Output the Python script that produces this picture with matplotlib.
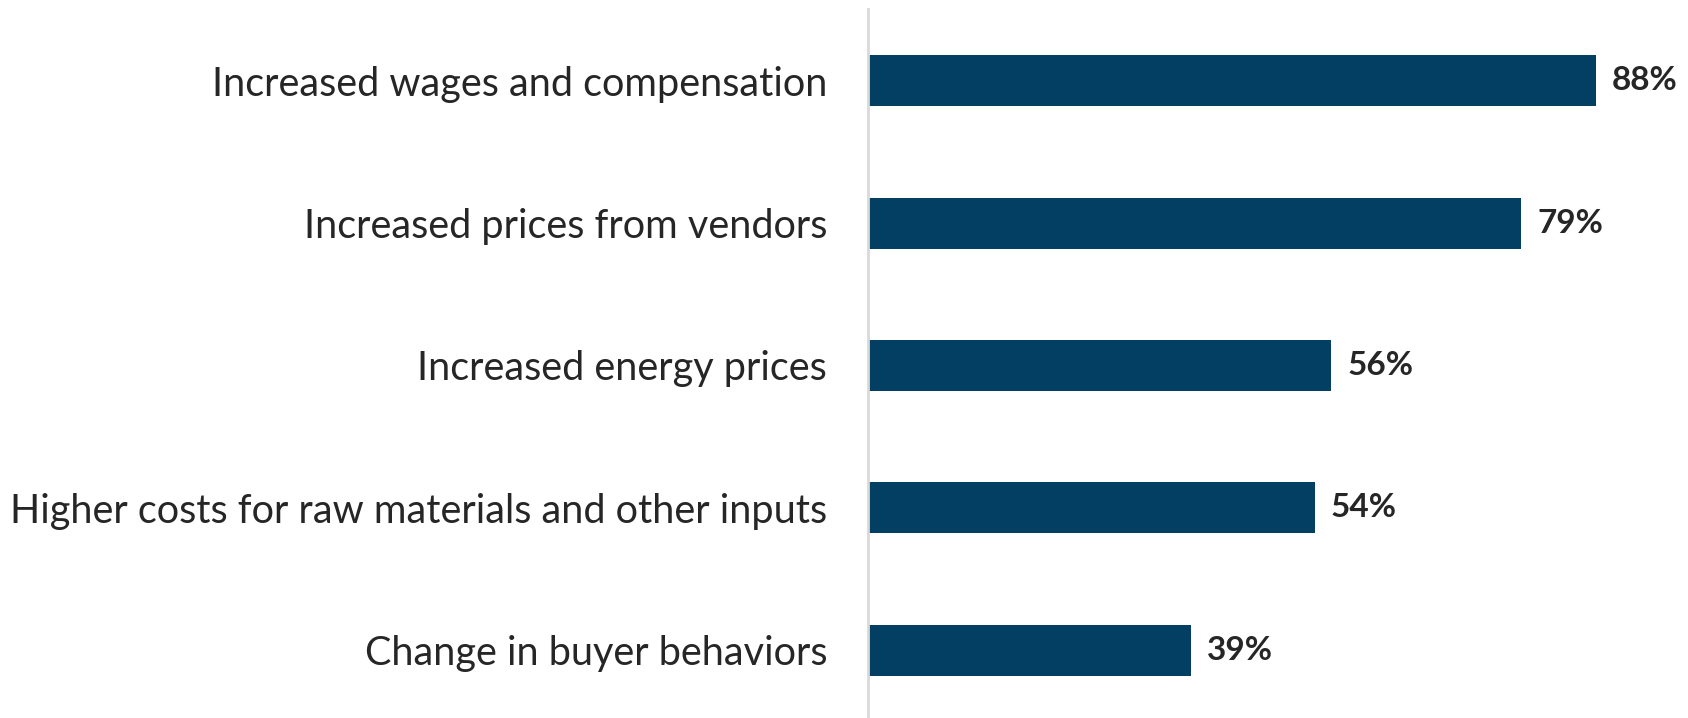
import matplotlib
matplotlib.use("Agg")
import matplotlib.pyplot as plt

categories = [
    "Increased wages and compensation",
    "Increased prices from vendors",
    "Increased energy prices",
    "Higher costs for raw materials and other inputs",
    "Change in buyer behaviors",
]
values = [88, 79, 56, 54, 39]
value_labels = ["88%", "79%", "56%", "54%", "39%"]

W, H = 1688, 718
fig = plt.figure(figsize=(W / 100, H / 100), dpi=100)
ax_left = 868 / W
ax = fig.add_axes([ax_left, 0, 1 - ax_left, 1 - 9 / H])

bar_color = "#023f63"
text_color = "#262626"
ypos = list(range(len(categories)))
ax.barh(ypos, values, height=0.358, color=bar_color, zorder=2)

ax.set_xlim(0, (W - 868) / 8.27)
ax.set_ylim(4.474, -0.502)

ax.set_yticks(ypos)
ax.set_yticklabels(categories, fontsize=28.5, family=["Lato", "DejaVu Sans"], color=text_color)
ax.tick_params(axis="y", length=0, pad=29.5)
ax.set_xticks([])

for s in ["top", "right", "bottom"]:
    ax.spines[s].set_visible(False)
ax.spines["left"].set_color("#d9d9d9")
ax.spines["left"].set_linewidth(2)

for y, v, lab in zip(ypos, values, value_labels):
    ax.annotate(lab, (v, y), xytext=(11.5, 0), textcoords="offset points",
                va="center", ha="left", fontsize=24, fontweight="bold",
                family=["Lato", "DejaVu Sans"], color=text_color)

fig.savefig("out.png", dpi=100)
